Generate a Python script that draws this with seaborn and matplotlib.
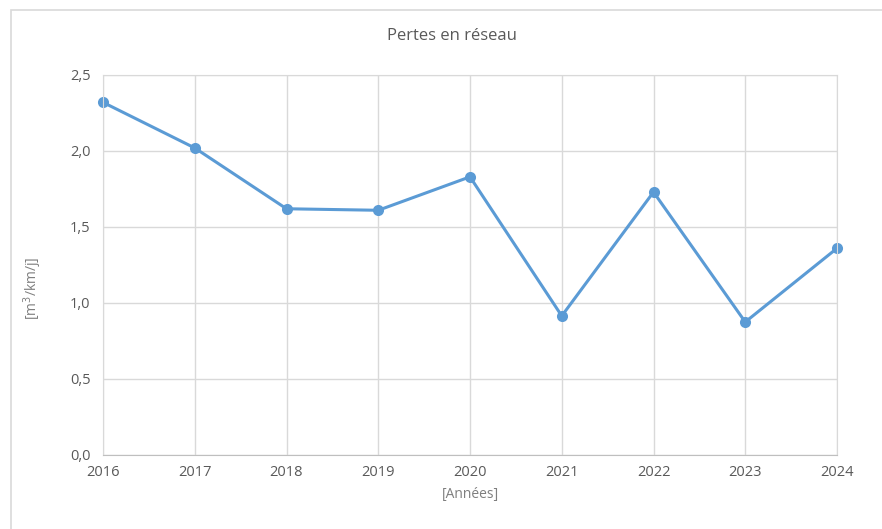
import numpy as np
import pandas as pd
import matplotlib
matplotlib.use("Agg")
import matplotlib.pyplot as plt
import seaborn as sns

# data
annees = [2016, 2017, 2018, 2019, 2020, 2021, 2022, 2023, 2024]
pertes = [2.32, 2.02, 1.62, 1.61, 1.83, 0.915, 1.73, 0.875, 1.36]
y_ticks = [0.0, 0.5, 1.0, 1.5, 2.0, 2.5]
y_labels = ["0,0", "0,5", "1,0", "1,5", "2,0", "2,5"]

df = pd.DataFrame({"Année": annees, "Pertes": pertes})

sns.set_style("white")
plt.rcParams["font.family"] = ["Open Sans", "DejaVu Sans"]

txt = "#595959"
grid = "#d9d9d9"

fig = plt.figure(figsize=(8.82, 5.29), dpi=100)
ax = fig.add_axes([103 / 882, (529 - 455) / 529, (837 - 103) / 882, (455 - 75) / 529])

sns.lineplot(data=df, x="Année", y="Pertes", ax=ax, color="#5B9BD5",
             linewidth=2.2, marker="o", markersize=8, markeredgewidth=0)
for ln in ax.lines:
    ln.set_clip_on(False)

ax.set_xlim(2016, 2024)
ax.set_ylim(0, 2.5)
ax.set_xticks(annees)
ax.set_xticklabels([str(a) for a in annees])
ax.set_yticks(y_ticks)
ax.set_yticklabels(y_labels)
ax.tick_params(axis="both", colors=txt, labelsize=10.5, length=0)
ax.tick_params(axis="x", pad=7)
ax.tick_params(axis="y", pad=9)
ax.grid(True, color=grid, linewidth=1)
ax.set_axisbelow(True)
for s in ax.spines.values():
    s.set_color(grid)
ax.spines["bottom"].set_color("#bfbfbf")

ax.set_xlabel("[Années]", color="#7f7f7f", fontsize=10, labelpad=5)
ax.set_ylabel("")
fig.text(33 / 882, 1 - 288 / 529, "[m$^3$/km/j]", rotation=90, ha="center", va="center",
         color="#7f7f7f", fontsize=10)
fig.text(452 / 882, 1 - 36 / 529, "Pertes en réseau", ha="center", va="center",
         color=txt, fontsize=12)

# light frame around the chart area
frame = plt.Rectangle((11 / 882, -0.1), 1.0, 1 - 10 / 529 + 0.1, transform=fig.transFigure,
                      fill=False, edgecolor="#d9d9d9", linewidth=1.2)
fig.patches.append(frame)

fig.savefig("out.png", dpi=100)
